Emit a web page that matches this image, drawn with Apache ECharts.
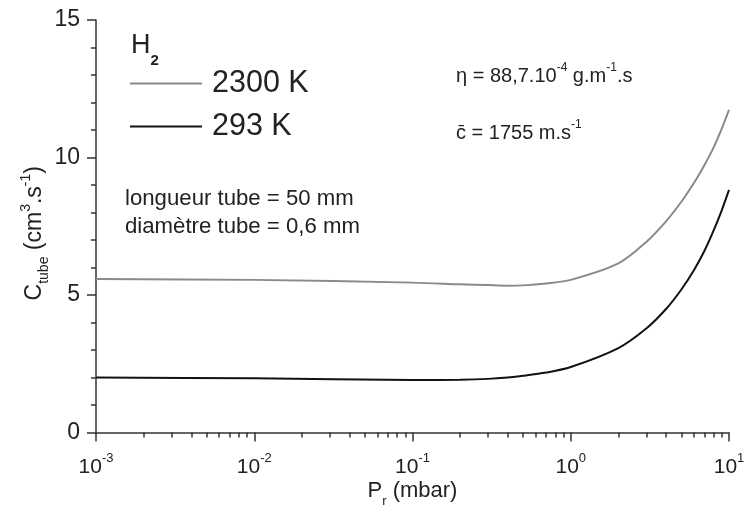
<!DOCTYPE html>
<html>
<head>
<meta charset="utf-8">
<script src="https://cdn.jsdelivr.net/npm/echarts@6/dist/echarts.min.js"></script>
<style>
  html, body { margin: 0; padding: 0; background: #fff; }
  #chart { width: 754px; height: 507px; }
</style>
</head>
<body>
<div id="chart"></div>
<script>
// pression P_r (mbar)
const pressure = [0.001, 0.01, 0.1, 0.2, 0.3, 0.4, 0.5, 0.7, 1, 2, 3, 4, 5, 6, 7, 8, 9, 10];
// C_tube (cm3/s) a 2300 K et 293 K
const hot = [5.58, 5.55, 5.45, 5.39, 5.36, 5.34, 5.35, 5.42, 5.55, 6.15, 6.93, 7.68, 8.39, 9.07, 9.73, 10.37, 11.05, 11.73];
const cold = [2.0, 1.97, 1.91, 1.92, 1.95, 2.0, 2.06, 2.18, 2.38, 3.07, 3.78, 4.49, 5.2, 5.9, 6.61, 7.35, 8.08, 8.82];
const seriesNames = ['2300 K', '293 K'];

// petites graduations 2..9 de chaque decade (en log10)
let minorTicks = [];
for (let d = -3; d < 1; d++) {
    for (let k = 2; k <= 9; k++) minorTicks.push(d + Math.log10(k));
}

const font = 'Liberation Sans, Arial, sans-serif';
const txt = '#222';

const chart = echarts.init(document.getElementById('chart'));

chart.setOption({
    animation: false,
    grid: { left: 96, right: 25, top: 20, bottom: 74.5, outerBoundsMode: 'none', containLabel: false },
    legend: {
        left: 125, top: 62, orient: 'vertical',
        icon: 'rect',
        itemWidth: 72, itemHeight: 2, itemGap: 10,
        textStyle: { fontFamily: font, fontSize: 30.5, lineHeight: 33, color: txt, padding: [0, 0, 0, 5] },
        data: seriesNames
    },
    xAxis: [{
        type: 'log', min: 0.001, max: 10, logBase: 10,
        axisLine: { lineStyle: { color: '#333', width: 1.5 } },
        axisTick: { length: 9, lineStyle: { color: '#333', width: 1.5 } },
        splitLine: { show: false },
        axisLabel: {
            margin: 19,
            formatter: v => '{b|10}{s|' + Math.round(Math.log10(v)) + '}',
            rich: {
                b: { fontFamily: font, fontSize: 21, color: txt, lineHeight: 26, verticalAlign: 'bottom' },
                s: { fontFamily: font, fontSize: 13, color: txt, lineHeight: 26, verticalAlign: 'top' }
            }
        },
        name: '{b|P}{sub|r}{b| (mbar)}',
        nameLocation: 'middle', nameGap: 47, nameMoveOverlap: false,
        nameTextStyle: {
            rich: {
                b: { fontFamily: font, fontSize: 22, color: txt, lineHeight: 28, verticalAlign: 'top' },
                sub: { fontFamily: font, fontSize: 13, color: txt, lineHeight: 28, verticalAlign: 'bottom' }
            }
        }
    }, {
        type: 'value', min: -3, max: 1, position: 'bottom',
        axisLine: { show: false },
        axisLabel: { show: false },
        splitLine: { show: false },
        axisTick: { show: true, length: 5, customValues: minorTicks, lineStyle: { color: '#333', width: 1.5 } }
    }],
    yAxis: {
        type: 'value', min: 0, max: 15, interval: 5,
        axisLine: { show: true, onZero: false, lineStyle: { color: '#333', width: 1.5 } },
        axisTick: { show: true, length: 9, lineStyle: { color: '#333', width: 1.5 } },
        minorTick: { show: true, splitNumber: 5, length: 5, lineStyle: { color: '#333', width: 1.5 } },
        splitLine: { show: false },
        axisLabel: { margin: 16, fontFamily: font, fontSize: 23, color: txt },
        name: '{b|C}{sub|tube}{b| (cm}{sup|3}{b|.s}{sup|-1}{b|)}',
        nameLocation: 'middle', nameGap: 45, nameRotate: 90, nameMoveOverlap: false,
        nameTextStyle: {
            padding: [0, 14, 0, 0],
            rich: {
                b: { fontFamily: font, fontSize: 23, color: txt, lineHeight: 32, verticalAlign: 'middle' },
                sub: { fontFamily: font, fontSize: 14, color: txt, lineHeight: 32, verticalAlign: 'bottom' },
                sup: { fontFamily: font, fontSize: 14, color: txt, lineHeight: 32, verticalAlign: 'top' }
            }
        }
    },
    graphic: [
        {
            type: 'text', left: 131, top: 32,
            style: {
                text: '{b|H}{sub|2}',
                rich: {
                    b: { fontFamily: font, fontSize: 27, fill: txt, lineHeight: 36, verticalAlign: 'top' },
                    sub: { fontFamily: font, fontSize: 15, fontWeight: 'bold', fill: txt, lineHeight: 36, verticalAlign: 'bottom' }
                }
            }
        },
        {
            type: 'text', left: 125, top: 188,
            style: { text: 'longueur tube = 50 mm', fontFamily: font, fontSize: 22.2, fill: txt }
        },
        {
            type: 'text', left: 125, top: 216,
            style: { text: 'diamètre tube = 0,6 mm', fontFamily: font, fontSize: 22.2, fill: txt }
        },
        {
            type: 'text', left: 456, top: 62,
            style: {
                text: '{b|\u03b7 = 88,7.10}{s|-4}{b| g.m}{s|-1}{b|.s}',
                rich: {
                    b: { fontFamily: font, fontSize: 20, fill: txt, lineHeight: 24, verticalAlign: 'bottom' },
                    s: { fontFamily: font, fontSize: 12, fill: txt, lineHeight: 24, verticalAlign: 'top' }
                }
            }
        },
        {
            type: 'text', left: 456, top: 119,
            style: {
                text: '{b|c\u0304 = 1755 m.s}{s|-1}',
                rich: {
                    b: { fontFamily: font, fontSize: 20, fill: txt, lineHeight: 24, verticalAlign: 'bottom' },
                    s: { fontFamily: font, fontSize: 12, fill: txt, lineHeight: 24, verticalAlign: 'top' }
                }
            }
        }
    ],
    series: [
        {
            name: seriesNames[0], type: 'line', symbol: 'none', smooth: 0.3,
            lineStyle: { color: '#8a8a8a', width: 2 }, itemStyle: { color: '#8a8a8a' },
            data: pressure.map((p, i) => [p, hot[i]])
        },
        {
            name: seriesNames[1], type: 'line', symbol: 'none', smooth: 0.3,
            lineStyle: { color: '#111', width: 2 }, itemStyle: { color: '#111' },
            data: pressure.map((p, i) => [p, cold[i]])
        }
    ]
});
</script>
</body>
</html>
